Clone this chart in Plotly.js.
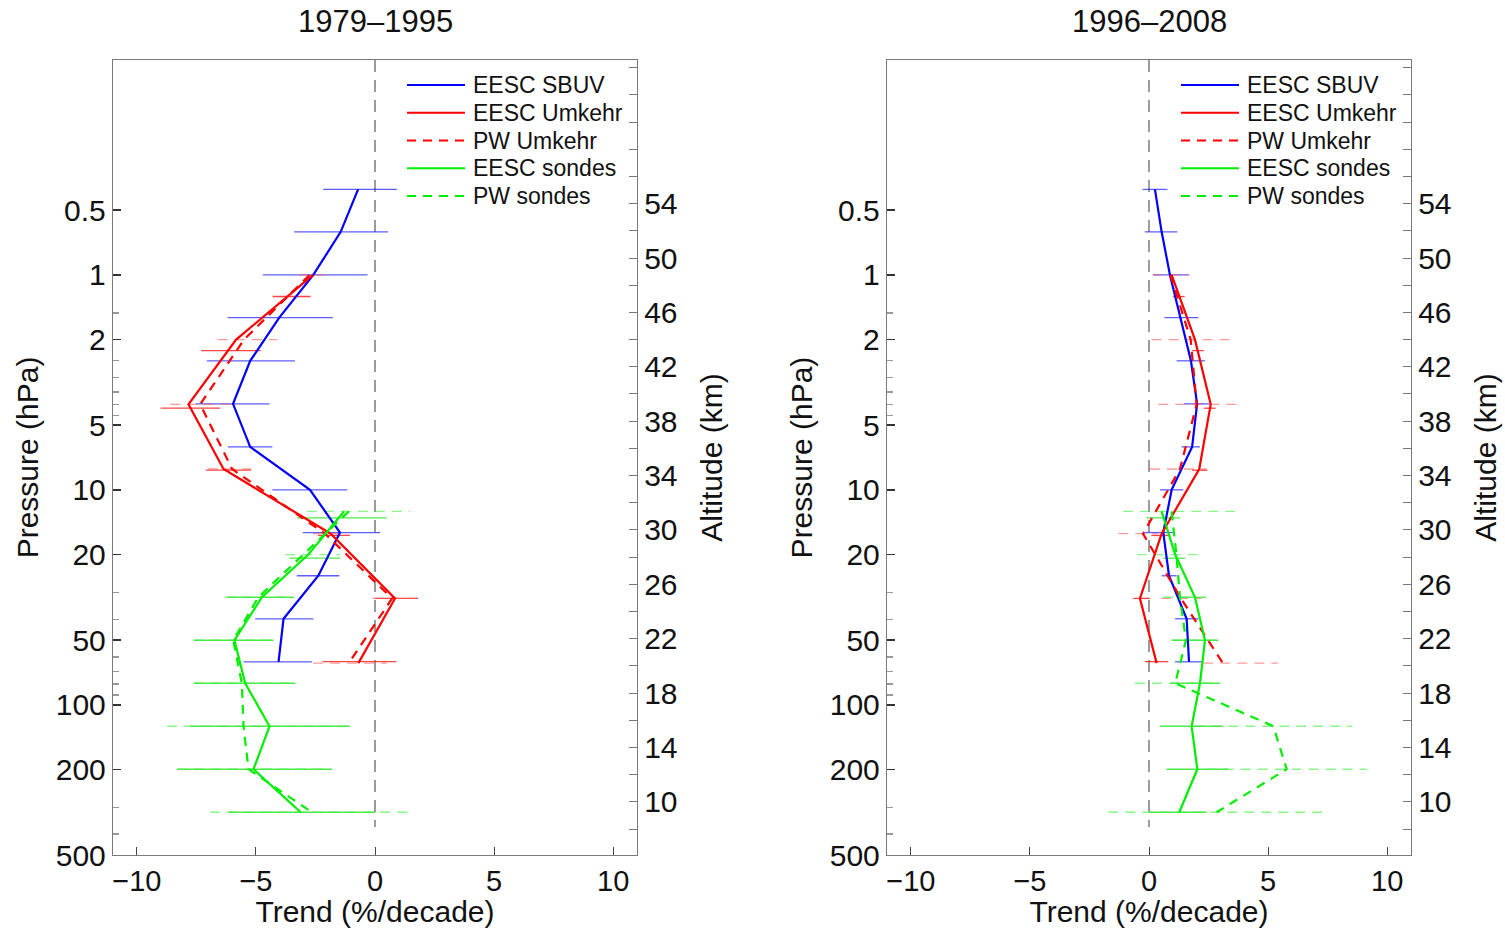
<!DOCTYPE html>
<html><head><meta charset="utf-8">
<script src="https://cdn.plot.ly/plotly-3.0.1.min.js"></script>
<style>html,body{margin:0;padding:0;background:#fff}#chart{width:1505px;height:928px}</style>
</head><body><div id="chart"></div>
<script>
// ---------- labels ----------
const panelTitles = ['1979\u20131995', '1996\u20132008'];
const seriesNames = ['EESC SBUV', 'EESC Umkehr', 'PW Umkehr', 'EESC sondes', 'PW sondes'];
const pressureTickVals = [0.5, 1, 2, 5, 10, 20, 50, 100, 200, 500];
const pressureTickText = ['0.5', '1', '2', '5', '10', '20', '50', '100', '200', '500'];
const pressureMinorTicks = [1.5, 2.5, 3, 3.5, 4, 4.5, 30, 40, 60, 70, 80, 90, 300, 400];
const altTickVals = [10, 14, 18, 22, 26, 30, 34, 38, 42, 46, 50, 54];
const trendTickVals = [-10, -5, 0, 5, 10];

// ---------- pressure levels (hPa) ----------
const sbuvP  = [0.4, 0.63, 1.0, 1.58, 2.51, 3.98, 6.31, 10, 15.8, 25.1, 39.8, 63.1];
const umkP   = [1, 2, 4, 8, 16, 32, 64];
const umkEescBarP = [1.26, 2.25, 4.17, 8.1, 16.3, 32, 63];
const sondeP = [12.6, 20, 31.6, 50.1, 79.4, 125.9, 199.5, 316.2];
const sondeEescBarP = [13.5, 20.8, 31.6, 50.1, 79.4, 125.9, 199.5, 316.2];

// ---------- 1979-1995 (%/decade) ----------
const sbuvTrendA = [-0.71, -1.44, -2.59, -4.02, -5.24, -5.96, -5.24, -2.73, -1.47, -2.38, -3.84, -4.05];
const sbuvLoA    = [-2.18, -3.40, -4.71, -6.19, -7.06, -7.52, -6.17, -4.31, -3.03, -3.28, -5.03, -5.52];
const sbuvHiA    = [0.92, 0.55, -0.32, -1.77, -3.36, -4.43, -4.31, -1.16, 0.21, -1.50, -2.59, -2.65];
const umkEescA   = [-2.6, -5.83, -7.83, -6.36, -1.86, 0.84, -0.70];
const umkEescLoA = [-4.3, -7.3, -9.0, -7.1, -2.4, 0.0, -2.2];
const umkEescHiA = [-2.7, -4.8, -6.5, -5.2, -1.05, 1.8, 0.9];
const umkPwA     = [-2.75, -5.5, -7.34, -6.0, -2.1, 0.72, -1.1];
const umkPwLoA   = [-3.2, -6.6, -8.6, -7.0, -2.6, -0.1, -2.6];
const umkPwHiA   = [-1.9, -4.1, -5.95, -5.2, -1.3, 1.6, 0.5];
const sondeEescA   = [-1.3, -2.8, -4.75, -5.9, -5.45, -4.43, -5.1, -3.12];
const sondeEescLoA = [-3.28, -3.6, -6.2, -7.6, -7.6, -7.76, -8.3, -6.15];
const sondeEescHiA = [0.49, -1.47, -3.4, -4.26, -3.35, -1.05, -1.82, 0.0];
const sondePwA     = [-1.1, -3.0, -4.9, -5.95, -5.59, -5.52, -5.31, -2.65];
const sondePwLoA   = [-2.86, -3.77, -6.3, -7.62, -7.62, -8.73, -8.32, -6.92];
const sondePwHiA   = [1.47, -1.47, -3.56, -4.26, -3.35, -1.05, -1.82, 1.6];

// ---------- 1996-2008 (%/decade) ----------
const sbuvTrendB = [0.25, 0.53, 0.88, 1.32, 1.76, 2.02, 1.81, 0.95, 0.6, 0.84, 1.58, 1.68];
const sbuvLoB    = [-0.27, -0.17, 0.17, 0.65, 1.16, 1.47, 1.37, 0.46, -0.17, 0.53, 1.09, 1.09];
const sbuvHiB    = [0.77, 1.19, 1.65, 2.07, 2.35, 2.53, 2.14, 1.44, 1.0, 1.16, 2.07, 2.28];
const umkEescB   = [0.95, 1.93, 2.59, 2.11, 0.53, -0.38, 0.32];
const umkEescLoB = [1.0, 1.8, 2.3, 1.8, 0.1, -0.66, -0.17];
const umkEescHiB = [1.5, 2.3, 2.8, 2.45, 0.9, 0.04, 0.81];
const umkPwB     = [0.9, 1.75, 2.0, 1.3, -0.25, 1.34, 3.1];
const umkPwLoB   = [0.15, 0.11, 0.39, 0.04, -1.29, 0.5, 2.28];
const umkPwHiB   = [1.72, 3.47, 3.89, 2.42, 0.39, 2.2, 5.42];
const sondeEescB   = [0.53, 1.1, 1.93, 2.35, 2.14, 1.79, 2.03, 1.27];
const sondeEescLoB = [-0.1, 0.6, 1.3, 0.95, 0.9, 0.46, 0.74, 0.04];
const sondeEescHiB = [1.3, 1.51, 2.4, 2.91, 2.98, 3.12, 3.33, 2.42];
const sondePwB     = [0.95, 1.15, 1.3, 1.55, 1.1, 5.22, 5.78, 2.84];
const sondePwLoB   = [-1.08, -0.52, 0.6, 0.95, -0.59, 1.9, 2.42, -1.71];
const sondePwHiB   = [3.61, 2.14, 2.0, 2.91, 2.98, 8.51, 9.14, 7.39];

const zeroLineP = [0.1, 370];

// ---------- styling ----------
const FONT = 'Liberation Sans, Arial, Helvetica, sans-serif';
const BLUE = '#0000ff', RED = '#ff0000', GREEN = '#00ee00';
const DASH = '9px,7px';
const W = 1505, H = 928;

const panels = [
  {xa: 'x', ya: 'y', legX: 407,
   sets: [
     [sbuvP, sbuvTrendA, sbuvP, sbuvLoA, sbuvHiA],
     [umkP, umkEescA, umkEescBarP, umkEescLoA, umkEescHiA],
     [umkP, umkPwA, umkP, umkPwLoA, umkPwHiA],
     [sondeP, sondeEescA, sondeEescBarP, sondeEescLoA, sondeEescHiA],
     [sondeP, sondePwA, sondeP, sondePwLoA, sondePwHiA]]},
  {xa: 'x2', ya: 'y3', legX: 1181,
   sets: [
     [sbuvP, sbuvTrendB, sbuvP, sbuvLoB, sbuvHiB],
     [umkP, umkEescB, umkEescBarP, umkEescLoB, umkEescHiB],
     [umkP, umkPwB, umkP, umkPwLoB, umkPwHiB],
     [sondeP, sondeEescB, sondeEescBarP, sondeEescLoB, sondeEescHiB],
     [sondeP, sondePwB, sondeP, sondePwLoB, sondePwHiB]]}
];
const lineStyles = [
  {color: BLUE, dash: 'solid', bar: 'rgba(40,40,255,0.75)', bdash: 'solid'},
  {color: RED, dash: 'solid', bar: 'rgba(255,20,20,0.8)', bdash: 'solid'},
  {color: RED, dash: DASH, bar: 'rgba(255,90,90,0.6)', bdash: '10px,7px'},
  {color: GREEN, dash: 'solid', bar: 'rgba(30,230,30,0.8)', bdash: 'solid'},
  {color: GREEN, dash: DASH, bar: 'rgba(60,240,60,0.6)', bdash: '10px,7px'}
];

const traces = [];
const shapes = [];
const annotations = [];
panels.forEach(pan => {
  traces.push({type: 'scatter', mode: 'lines', x: [0, 0], y: zeroLineP, xaxis: pan.xa, yaxis: pan.ya,
    line: {color: '#5a5a5a', width: 1.2, dash: '12px,8px'}, showlegend: false, hoverinfo: 'skip'});
  pan.sets.forEach((s, k) => {
    const [p, tr, bp, lo, hi] = s;
    const bx = [], by = [];
    for (let i = 0; i < bp.length; i++) { bx.push(lo[i], hi[i], null); by.push(bp[i], bp[i], null); }
    traces.push({type: 'scatter', mode: 'lines', x: bx, y: by, xaxis: pan.xa, yaxis: pan.ya,
      line: {color: lineStyles[k].bar, width: 1.3, dash: lineStyles[k].bdash},
      showlegend: false, hoverinfo: 'skip', connectgaps: false});
  });
  pan.sets.forEach((s, k) => {
    const [p, tr] = s;
    traces.push({type: 'scatter', mode: 'lines', name: seriesNames[k], x: tr, y: p,
      xaxis: pan.xa, yaxis: pan.ya, showlegend: false,
      line: {color: lineStyles[k].color, width: 2.2, dash: lineStyles[k].dash}});
    const yRow = 1 - (85 + 27.75 * k) / H;
    shapes.push({type: 'line', xref: 'paper', yref: 'paper',
      x0: pan.legX / W, x1: (pan.legX + 58) / W, y0: yRow, y1: yRow,
      line: {color: lineStyles[k].color, width: 2, dash: lineStyles[k].dash}});
    annotations.push({text: seriesNames[k], xref: 'paper', yref: 'paper',
      x: (pan.legX + 64) / W, y: yRow, xanchor: 'left', yanchor: 'middle', showarrow: false,
      font: {size: 23, color: '#111'}});
  });
});

const AXC = '#7a7a7a';
const yDom = [1 - 855 / H, 1 - 60 / H];
const xDomA = [113 / W, 637 / W];
const xDomB = [887 / W, 1411 / W];

function xAxis(dom, anchor) {
  return {domain: dom, anchor: anchor, range: [-11, 11], tickmode: 'array', tickvals: trendTickVals,
    ticks: 'inside', ticklen: 8, tickcolor: '#444', showline: true, linecolor: AXC, linewidth: 1.2,
    mirror: true, zeroline: false, showgrid: false, tickfont: {size: 29, color: '#111'},
    title: {text: 'Trend (%/decade)', font: {size: 30, color: '#111'}, standoff: 4}};
}
function pAxis(anchor) {
  return {domain: yDom, anchor: anchor, type: 'log', range: [Math.log10(500), -1],
    tickmode: 'array', tickvals: pressureTickVals, ticktext: pressureTickText,
    ticks: 'inside', ticklen: 8, tickcolor: '#333', tickwidth: 1.5,
    minor: {tickmode: 'array', tickvals: pressureMinorTicks, ticks: 'inside', ticklen: 6, tickcolor: '#999'},
    showline: true, linecolor: AXC, linewidth: 1.2, mirror: false, zeroline: false, showgrid: false,
    tickfont: {size: 30, color: '#111'},
    title: {text: 'Pressure (hPa)', font: {size: 30, color: '#111'}, standoff: 8}};
}
function aAxis(over, anchor) {
  return {overlaying: over, anchor: anchor, side: 'right', range: [6.1, 64.56],
    tickmode: 'array', tickvals: altTickVals, ticks: 'inside', ticklen: 8, tickcolor: '#777',
    minor: {dtick: 2, tick0: 0, ticks: 'inside', ticklen: 8, tickcolor: '#777'},
    showline: true, linecolor: AXC, linewidth: 1.2, zeroline: false, showgrid: false,
    tickfont: {size: 30, color: '#111'},
    title: {text: 'Altitude (km)', font: {size: 30, color: '#111'}, standoff: 24}};
}

panelTitles.forEach((t, i) => {
  const dom = i === 0 ? xDomA : xDomB;
  annotations.push({text: t, xref: 'paper', yref: 'paper', x: (dom[0] + dom[1]) / 2,
    y: 1 - 22 / H, xanchor: 'center', yanchor: 'middle', showarrow: false,
    font: {size: 31, color: '#111'}});
});

const layout = {
  width: W, height: H, paper_bgcolor: '#fff', plot_bgcolor: '#fff',
  margin: {l: 0, r: 0, t: 0, b: 0}, font: {family: FONT, color: '#111'},
  showlegend: false,
  xaxis: xAxis(xDomA, 'y'),
  yaxis: pAxis('x'),
  yaxis2: aAxis('y', 'x'),
  xaxis2: xAxis(xDomB, 'y3'),
  yaxis3: pAxis('x2'),
  yaxis4: aAxis('y3', 'x2'),
  shapes: shapes,
  annotations: annotations
};

traces.push({type: 'scatter', mode: 'lines', x: [null], y: [null], xaxis: 'x', yaxis: 'y2', showlegend: false, hoverinfo: 'skip'});
traces.push({type: 'scatter', mode: 'lines', x: [null], y: [null], xaxis: 'x2', yaxis: 'y4', showlegend: false, hoverinfo: 'skip'});

Plotly.newPlot('chart', traces, layout, {displayModeBar: false, staticPlot: true});
</script></body></html>
